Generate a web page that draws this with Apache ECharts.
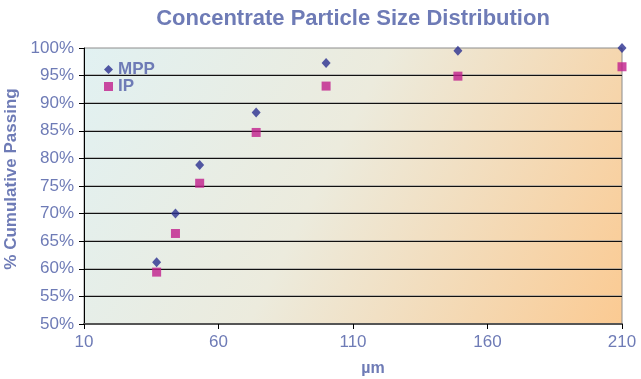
<!DOCTYPE html>
<html><head><meta charset="utf-8">
<script src="https://cdn.jsdelivr.net/npm/echarts@6/dist/echarts.min.js"></script>
<style>html,body{margin:0;padding:0;background:#fff}#c{width:641px;height:379px}</style>
</head><body><div id="c"></div>
<script>
const sizes = [37, 44, 53, 74, 100, 149, 210];
const mpp = [61.2, 70.0, 78.8, 88.3, 97.3, 99.5, 100.0];
const ip = [59.4, 66.4, 75.5, 84.7, 93.1, 94.9, 96.6];
const seriesNames = ['MPP', 'IP'];
const xTicks = [10, 60, 110, 160, 210];

const txt = '#6e7bb6';
const font = "'Liberation Sans', Arial, sans-serif";
const chart = echarts.init(document.getElementById('c'));
chart.setOption({
  animation: false,
  textStyle: { fontFamily: font },
  title: {
    text: 'Concentrate Particle Size Distribution',
    left: 348, top: 3, textAlign: 'center',
    textStyle: { color: txt, fontSize: 22, fontWeight: 'bold', fontFamily: font }
  },
  grid: {
    left: 84, right: 19, top: 48, bottom: 55, show: true, containLabel: false, outerBoundsMode: 'none',
    borderColor: '#8c8c8c', borderWidth: 1,
    backgroundColor: new echarts.graphic.LinearGradient(0, 0, 1, 1, [
      { offset: 0, color: '#e1f1f2' },
      { offset: 0.45, color: '#ecebdd' },
      { offset: 1, color: '#fbca92' }
    ])
  },
  legend: {
    orient: 'vertical', left: 99, top: 56, itemWidth: 9, itemHeight: 9, itemGap: 0,
    textStyle: { color: txt, fontSize: 17, fontWeight: 'bold', fontFamily: font },
    data: [{ name: seriesNames[0], icon: 'diamond' }, { name: seriesNames[1], icon: 'rect' }]
  },
  xAxis: {
    type: 'value', min: xTicks[0], max: xTicks[xTicks.length - 1], interval: 50,
    name: 'µm', nameLocation: 'middle', nameGap: 37,
    nameTextStyle: { color: txt, fontSize: 16, fontWeight: 'bold', padding: [0, 0, 0, 40] },
    axisLine: { lineStyle: { color: '#555', width: 2 } },
    axisTick: { show: true, inside: false, length: 5, lineStyle: { color: '#000' } },
    axisLabel: { color: txt, fontSize: 17, margin: 10 },
    splitLine: { show: false }
  },
  yAxis: {
    type: 'value', min: 50, max: 100, interval: 5,
    name: '% Cumulative Passing', nameLocation: 'middle', nameGap: 59,
    nameTextStyle: { color: txt, fontSize: 17, fontWeight: 'bold', padding: [0, 0, 0, 14] },
    axisLine: { show: true, lineStyle: { color: '#000', width: 1 } },
    axisTick: { show: true, inside: false, length: 5, lineStyle: { color: '#000' } },
    axisLabel: { color: txt, fontSize: 17, margin: 10, formatter: '{value}%' },
    splitLine: { show: true, showMinLine: false, showMaxLine: false,
      lineStyle: { color: '#111', width: 1, shadowColor: 'rgba(150,150,150,0.6)', shadowOffsetY: -1, shadowBlur: 0 } }
  },
  series: [
    {
      name: seriesNames[0], type: 'scatter', symbol: 'diamond', symbolSize: [9, 10], clip: false,
      itemStyle: { color: '#2b2f90' },
      data: sizes.map((s, i) => [s, mpp[i]]), z: 3
    },
    {
      name: seriesNames[1], type: 'scatter', symbol: 'rect', symbolSize: 9, clip: false,
      itemStyle: { color: '#c01e8c' },
      data: sizes.map((s, i) => [s, ip[i]]), z: 2
    }
  ]
});
</script></body></html>
